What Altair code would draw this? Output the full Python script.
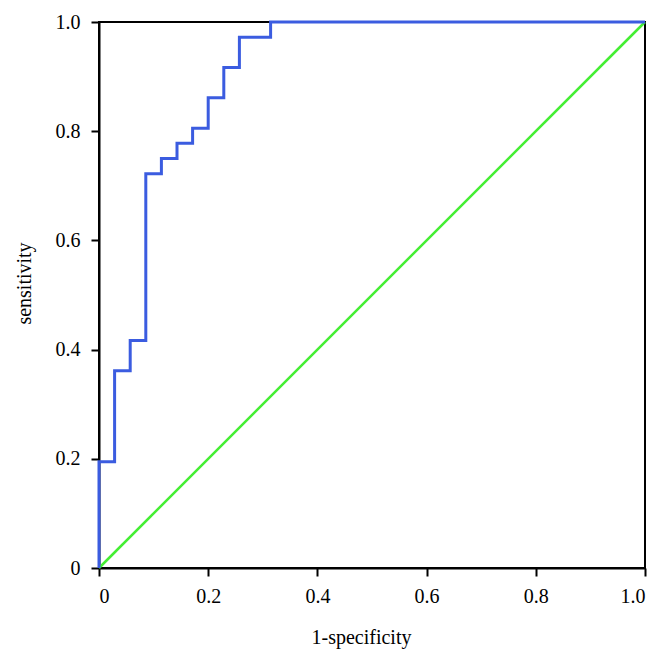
import altair as alt
import pandas as pd

# ROC step points (1-specificity in 35ths, sensitivity in 36ths)
fpr_counts = [0, 1, 2, 3, 4, 5, 6, 7, 8, 9, 11, 35]
tpr_counts = [0, 7, 13, 15, 26, 27, 28, 29, 31, 33, 35, 36]
fpr = [c / 35 for c in fpr_counts]
tpr = [c / 36 for c in tpr_counts]

diag_x = [0.0, 1.0]
diag_y = [0.0, 1.0]

tick_values = [0, 0.2, 0.4, 0.6, 0.8, 1.0]

roc = pd.DataFrame({"x": fpr, "y": tpr})
diag = pd.DataFrame({"x": diag_x, "y": diag_y})

FONT = "Liberation Serif"
label_expr = "datum.value == 0 ? '0' : format(datum.value, '.1f')"

xscale = alt.Scale(domain=[0, 1], nice=False, zero=False)
yscale = alt.Scale(domain=[0, 1], nice=False, zero=False)

xaxis = alt.Axis(values=tick_values, labelExpr=label_expr, grid=False,
                 title="1-specificity", titleFont=FONT, titleFontSize=20,
                 titleFontWeight="normal", titleColor="black",
                 labelFont=FONT, labelFontSize=20, labelColor="black",
                 tickColor="black", domainColor="black", tickSize=8,
                 tickWidth=2, domainWidth=2, labelPadding=10, titlePadding=21,
                 titleX=262)
yaxis = alt.Axis(values=tick_values, labelExpr=label_expr, grid=False,
                 title="sensitivity", titleFont=FONT, titleFontSize=20,
                 titleFontWeight="normal", titleColor="black",
                 labelFont=FONT, labelFontSize=20, labelColor="black",
                 tickColor="black", domainColor="black", tickSize=8,
                 tickWidth=2, domainWidth=2, labelPadding=11, titlePadding=21,
                 titleY=261)

green = alt.Chart(diag).mark_line(color="#44ee33", strokeWidth=2.5).encode(
    x=alt.X("x:Q", scale=xscale, axis=xaxis),
    y=alt.Y("y:Q", scale=yscale, axis=yaxis),
)

blue = alt.Chart(roc).mark_line(color="#3b5ce0", strokeWidth=3,
                                interpolate="step-before").encode(
    x=alt.X("x:Q", scale=xscale),
    y=alt.Y("y:Q", scale=yscale),
)

chart = (green + blue).properties(
    width=546, height=546,
    autosize=alt.AutoSizeParams(type="none"),
    padding={"left": 91, "top": 14, "right": 19, "bottom": 86},
).configure_view(stroke="black", strokeWidth=2)

chart.save("out.html", embed_options={"renderer": "svg", "actions": False})
